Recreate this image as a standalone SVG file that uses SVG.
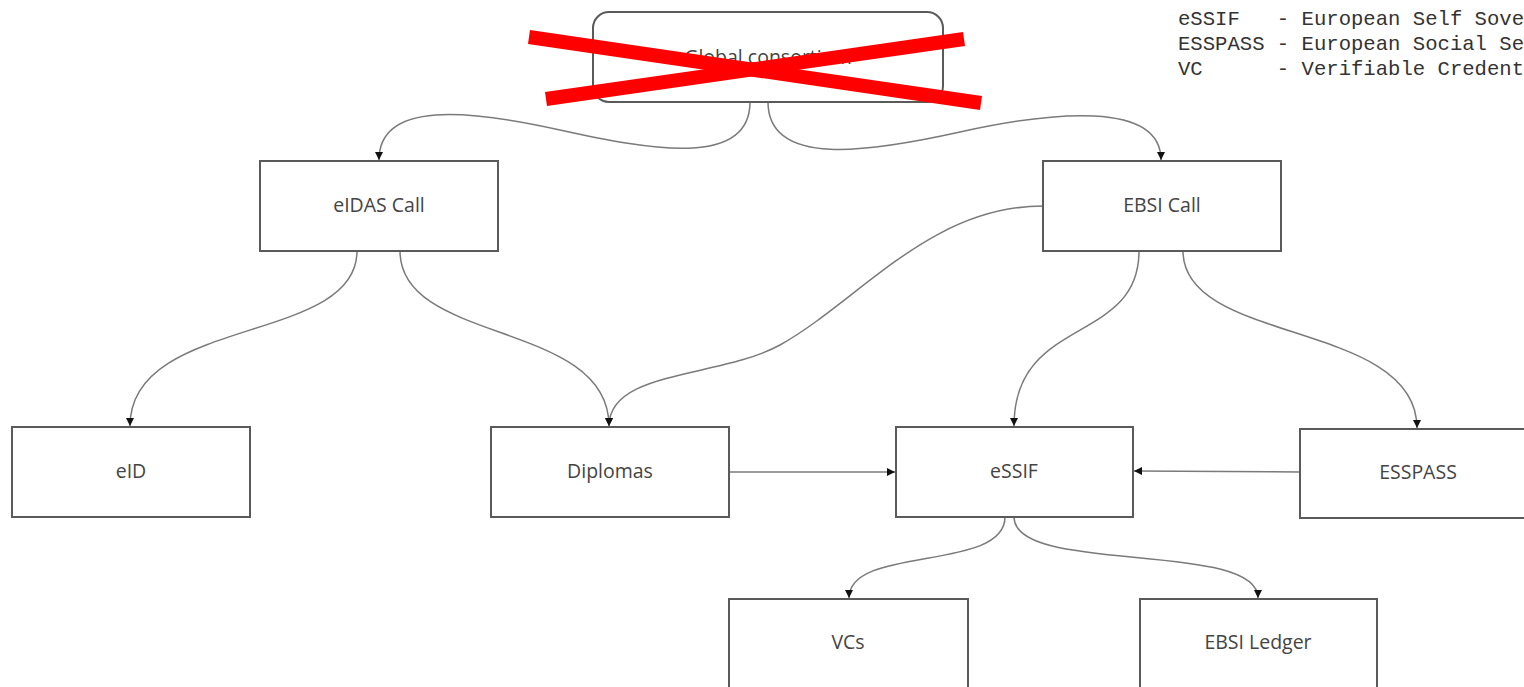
<svg xmlns="http://www.w3.org/2000/svg" width="1524" height="687" viewBox="0 0 1524 687">
<style>
.box{fill:#fff;stroke:#5a5a5a;stroke-width:2}
.lbl{font-family:"Open Sans",sans-serif;font-size:19.5px;fill:#444;text-anchor:middle;dominant-baseline:central}
.edge{fill:none;stroke:#7a7a7a;stroke-width:1.5}
.leg{font-family:"Liberation Mono",monospace;font-size:20.6px;fill:#333;white-space:pre}
.cross{stroke:#ff0000;stroke-width:14;stroke-linecap:butt}
</style>
<defs>
<marker id="arr" viewBox="0 0 10 10" refX="10" refY="5" markerWidth="8" markerHeight="8" markerUnits="userSpaceOnUse" orient="auto">
<path d="M0,0 L10,5 L0,10 z" fill="#111"/>
</marker>
</defs>
<rect width="1524" height="687" fill="#fff"/>
<g id="connectors">
<path class="edge" marker-end="url(#arr)" d="M750,102 C750,168 650,150 560,130 S379,100 379,160"/>
<path class="edge" marker-end="url(#arr)" d="M768,102 C768,168 870,152 960,132 S1161,100 1161,160"/>
<path class="edge" marker-end="url(#arr)" d="M357,251 C357,345 130,315 130,426"/>
<path class="edge" marker-end="url(#arr)" d="M400,251 C400,345 609,320 609,426"/>
<path class="edge" marker-end="url(#arr)" d="M1043,206 C930,206 860,300 780,345 C720,378 609,370 609,426"/>
<path class="edge" marker-end="url(#arr)" d="M1139,251 C1139,345 1014,315 1014,426"/>
<path class="edge" marker-end="url(#arr)" d="M1183,251 C1183,345 1417,320 1417,428"/>
<path class="edge" marker-end="url(#arr)" d="M729,472 L895,472"/>
<path class="edge" marker-end="url(#arr)" d="M1300,472 L1134,471"/>
<path class="edge" marker-end="url(#arr)" d="M1005,517 C1005,572 849,545 849,598"/>
<path class="edge" marker-end="url(#arr)" d="M1014,517 C1014,575 1258,540 1258,598"/>
</g>
<g id="global">
<rect class="box" x="593" y="12" width="350" height="90" rx="16"/>
<text class="lbl" x="768" y="56">Global consortium</text>
</g>
<g id="eidas-call">
<rect class="box" x="260" y="161" width="238" height="90"/>
<text class="lbl" x="379" y="204">eIDAS Call</text>
</g>
<g id="ebsi-call">
<rect class="box" x="1043" y="161" width="238" height="90"/>
<text class="lbl" x="1162" y="204">EBSI Call</text>
</g>
<g id="eid">
<rect class="box" x="12" y="427" width="238" height="90"/>
<text class="lbl" x="131" y="470">eID</text>
</g>
<g id="diplomas">
<rect class="box" x="491" y="427" width="238" height="90"/>
<text class="lbl" x="610" y="470">Diplomas</text>
</g>
<g id="essif">
<rect class="box" x="896" y="427" width="237" height="90"/>
<text class="lbl" x="1014" y="470">eSSIF</text>
</g>
<g id="esspass">
<rect class="box" x="1300" y="429" width="240" height="89"/>
<text class="lbl" x="1418" y="471">ESSPASS</text>
</g>
<g id="vcs">
<rect class="box" x="729" y="599" width="239" height="100"/>
<text class="lbl" x="848" y="641">VCs</text>
</g>
<g id="ebsi-ledger">
<rect class="box" x="1140" y="599" width="237" height="100"/>
<text class="lbl" x="1258" y="641">EBSI Ledger</text>
</g>
<g id="legend">
<text class="leg" x="1178" y="25">eSSIF   - European Self Sove</text>
<text class="leg" x="1178" y="50">ESSPASS - European Social Se</text>
<text class="leg" x="1178" y="75">VC      - Verifiable Credent</text>
</g>
<g id="cross-out">
<line class="cross" x1="529" y1="37" x2="981" y2="103"/>
<line class="cross" x1="546" y1="99" x2="964" y2="39"/>
</g>
</svg>
